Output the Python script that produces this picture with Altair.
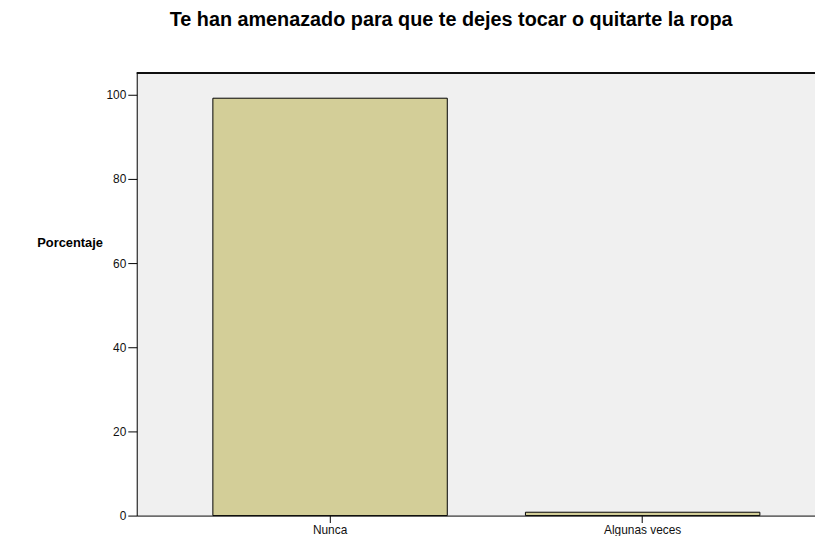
import altair as alt
import pandas as pd

categories = ["Nunca", "Algunas veces"]
percentages = [99.2, 0.8]

df = pd.DataFrame({"cat": categories, "pct": percentages})

W, H = 685, 447

bars = alt.Chart(df).mark_bar(
    fill="#d3ce98", stroke="#000000", strokeWidth=1
).encode(
    x=alt.X("cat:N", sort=categories, title=None,
            scale=alt.Scale(paddingInner=0.25, paddingOuter=0.21, align=0.58),
            axis=alt.Axis(labelAngle=0, labelFontSize=12, labelFont="Liberation Sans",
                          labelColor="#111111", tickSize=7, tickColor="#000000",
                          domainColor="#000000", labelPadding=2)),
    y=alt.Y("pct:Q", title="Porcentaje",
            scale=alt.Scale(domain=[0, 105.2], nice=False),
            axis=alt.Axis(values=[0, 20, 40, 60, 80, 100], grid=False,
                          labelFontSize=12, labelFont="Liberation Sans",
                          labelColor="#111111", tickSize=9, tickColor="#000000",
                          domainColor="#000000", labelPadding=2,
                          titleAngle=0, titleFont="Liberation Sans", titleFontSize=13,
                          titleFontWeight="bold", titleColor="#000000",
                          titleX=-101, titleY=171, titleAlign="left",
                          titleBaseline="middle")),
)

top = alt.Chart(df).mark_rule(color="#000000", strokeWidth=1.5).encode(
    x=alt.value(0), x2=alt.value(W), y=alt.value(0)
)

chart = alt.layer(bars, top).properties(
    width=W, height=H,
    background="#ffffff",
    title=alt.TitleParams(
        "Te han amenazado para que te dejes tocar o quitarte la ropa",
        font="Liberation Sans", fontSize=20, fontWeight="bold", color="#000000",
        anchor="middle", dx=-25, offset=43,
    ),
    autosize=alt.AutoSizeParams(type="none"),
    padding={"left": 130, "top": 63, "right": 0, "bottom": 18},
).configure_view(fill="#f0f0f0", stroke=None)

chart.save("out.html", embed_options={"renderer": "svg", "actions": False})
